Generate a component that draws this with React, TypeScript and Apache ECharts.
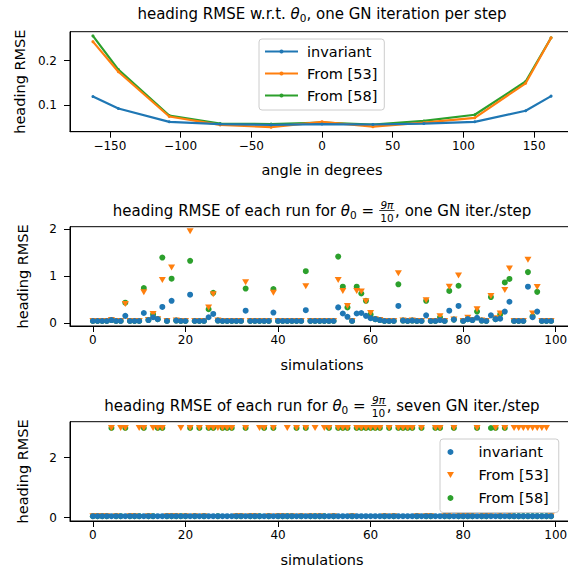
import React, { useEffect, useRef } from 'react';
import * as echarts from 'echarts';

// ---------------- data ----------------
const angles = [-162, -144, -108, -72, -36, 0, 36, 72, 108, 144, 162];
const angleInvariant = [0.119, 0.092, 0.062, 0.057, 0.055, 0.057, 0.056, 0.058, 0.062, 0.087, 0.12];
const angleFrom53 = [0.243, 0.175, 0.074, 0.055, 0.05, 0.062, 0.051, 0.06, 0.071, 0.149, 0.252];
const angleFrom58 = [0.256, 0.18, 0.076, 0.058, 0.057, 0.06, 0.056, 0.064, 0.078, 0.153, 0.252];
const angleTicks = [-150, -100, -50, 0, 50, 100, 150];
const angleRmseTicks = [0.1, 0.2];

const simTicks = [0, 20, 40, 60, 80, 100];
const oneIterTicks = [0, 1, 2];
const sevenIterTicks = [0, 2];

const oneIterInvariant = [
  0.05, 0.05, 0.05, 0.05, 0.07, 0.05, 0.05, 0.16, 0.05, 0.05,
  0.05, 0.22, 0.07, 0.13, 0.09, 0.35, 0.05, 0.48, 0.06, 0.05,
  0.05, 0.61, 0.05, 0.05, 0.05, 0.13, 0.2, 0.06, 0.05, 0.05,
  0.05, 0.05, 0.05, 0.27, 0.05, 0.05, 0.05, 0.05, 0.05, 0.23,
  0.05, 0.05, 0.05, 0.05, 0.05, 0.05, 0.28, 0.05, 0.05, 0.05,
  0.05, 0.05, 0.05, 0.34, 0.21, 0.14, 0.05, 0.21, 0.22, 0.16,
  0.11, 0.09, 0.07, 0.05, 0.05, 0.05, 0.37, 0.06, 0.05, 0.06,
  0.05, 0.05, 0.17, 0.05, 0.05, 0.07, 0.05, 0.27, 0.08, 0.37,
  0.05, 0.09, 0.07, 0.12, 0.06, 0.05, 0.17, 0.09, 0.1, 0.25,
  0.46, 0.05, 0.05, 0.05, 0.78, 0.13, 0.25, 0.05, 0.05, 0.05,
];
const oneIterFrom53 = [
  0.05, 0.05, 0.05, 0.05, 0.07, 0.05, 0.05, 0.41, 0.05, 0.05,
  0.05, 0.66, 0.07, 0.2, 0.09, 0.92, 0.05, 1.19, 0.06, 0.05,
  0.05, 1.96, 0.05, 0.05, 0.05, 0.34, 0.62, 0.06, 0.05, 0.05,
  0.05, 0.05, 0.05, 0.875, 0.05, 0.05, 0.05, 0.05, 0.05, 0.65,
  0.05, 0.05, 0.05, 0.05, 0.05, 0.05, 0.79, 0.05, 0.05, 0.05,
  0.05, 0.05, 0.05, 0.92, 0.69, 0.37, 0.05, 0.69, 0.68, 0.47,
  0.22, 0.09, 0.07, 0.05, 0.05, 0.05, 1.065, 0.06, 0.05, 0.06,
  0.05, 0.05, 0.49, 0.05, 0.05, 0.15, 0.05, 0.78, 0.08, 1.02,
  0.05, 0.12, 0.07, 0.3, 0.06, 0.05, 0.58, 0.11, 0.21, 0.71,
  1.165, 0.05, 0.05, 0.05, 1.355, 0.21, 0.775, 0.05, 0.05, 0.05,
];
const oneIterFrom58 = [
  0.05, 0.05, 0.05, 0.05, 0.07, 0.05, 0.05, 0.44, 0.05, 0.05,
  0.05, 0.75, 0.07, 0.19, 0.09, 1.4, 0.05, 0.95, 0.06, 0.05,
  0.05, 1.33, 0.05, 0.05, 0.05, 0.3, 0.65, 0.06, 0.05, 0.05,
  0.05, 0.05, 0.05, 0.74, 0.05, 0.05, 0.05, 0.05, 0.05, 0.73,
  0.05, 0.05, 0.05, 0.05, 0.05, 0.05, 1.11, 0.05, 0.05, 0.05,
  0.05, 0.05, 0.05, 1.42, 0.78, 0.34, 0.05, 0.78, 0.635, 0.48,
  0.19, 0.09, 0.07, 0.05, 0.05, 0.05, 0.83, 0.06, 0.05, 0.06,
  0.05, 0.05, 0.48, 0.05, 0.05, 0.13, 0.05, 0.69, 0.08, 0.8,
  0.05, 0.09, 0.07, 0.25, 0.06, 0.05, 0.56, 0.09, 0.19, 0.87,
  0.945, 0.05, 0.05, 0.05, 1.09, 0.15, 0.67, 0.05, 0.05, 0.05,
];

const sevenIterInvariant = [
  0.05, 0.05, 0.05, 0.05, 0.05, 0.05, 0.05, 0.05, 0.05, 0.05,
  0.05, 0.05, 0.05, 0.05, 0.05, 0.05, 0.05, 0.05, 0.05, 0.05,
  0.05, 0.05, 0.05, 0.05, 0.05, 0.05, 0.05, 0.05, 0.05, 0.05,
  0.05, 0.05, 0.05, 0.05, 0.05, 0.05, 0.05, 0.05, 0.05, 0.05,
  0.05, 0.05, 0.05, 0.05, 0.05, 0.05, 0.05, 0.05, 0.05, 0.05,
  0.05, 0.05, 0.05, 0.05, 0.05, 0.05, 0.05, 0.05, 0.05, 0.05,
  0.05, 0.05, 0.05, 0.05, 0.05, 0.05, 0.05, 0.05, 0.05, 0.05,
  0.05, 0.05, 0.05, 0.05, 0.05, 0.05, 0.05, 0.05, 0.05, 0.05,
  0.05, 0.05, 0.05, 0.05, 0.05, 0.05, 0.05, 0.05, 0.05, 0.05,
  0.05, 0.05, 0.05, 0.05, 0.05, 0.05, 0.05, 0.05, 0.05, 0.05,
];
const sevenIterFrom53 = [
  0.05, 0.05, 0.05, 0.05, 2.99, 0.05, 2.99, 2.99, 0.05, 0.05,
  2.99, 2.99, 0.05, 2.99, 2.99, 2.99, 0.05, 0.05, 0.05, 2.99,
  0.05, 2.99, 0.05, 2.99, 0.05, 2.99, 2.99, 2.99, 2.99, 2.99,
  2.99, 0.05, 0.05, 2.99, 0.05, 0.05, 2.99, 2.99, 0.05, 2.99,
  0.05, 0.05, 2.99, 0.05, 2.99, 0.05, 2.99, 0.05, 2.99, 0.05,
  2.99, 2.99, 0.05, 2.99, 2.99, 2.99, 0.05, 2.99, 2.99, 2.99,
  2.99, 2.99, 2.99, 0.05, 2.99, 0.05, 2.99, 2.99, 2.99, 2.99,
  0.05, 2.99, 0.05, 0.05, 2.99, 2.99, 0.05, 0.05, 2.99, 0.05,
  0.05, 0.05, 0.05, 2.99, 0.05, 0.05, 0.05, 2.99, 0.05, 2.99,
  0.05, 2.99, 2.99, 2.99, 2.99, 2.99, 2.99, 2.99, 2.99, 0.05,
];
const sevenIterFrom58 = [
  0.05, 0.05, 0.05, 0.05, 2.99, 0.05, 0.05, 2.99, 0.05, 0.05,
  0.05, 2.99, 0.05, 0.05, 2.99, 2.99, 0.05, 0.05, 0.05, 0.05,
  0.05, 2.99, 0.05, 2.99, 0.05, 2.99, 2.99, 0.05, 2.99, 2.99,
  2.99, 0.05, 0.05, 2.99, 0.05, 0.05, 0.05, 2.99, 0.05, 2.99,
  0.05, 0.05, 0.05, 0.05, 2.99, 0.05, 2.99, 0.05, 0.05, 0.05,
  0.05, 2.99, 0.05, 2.99, 2.99, 2.99, 0.05, 2.99, 2.99, 2.99,
  2.99, 2.99, 2.99, 0.05, 2.99, 0.05, 2.99, 2.99, 2.99, 2.99,
  0.05, 2.99, 0.05, 0.05, 2.99, 2.99, 0.05, 0.05, 2.99, 0.05,
  0.05, 0.05, 0.05, 2.99, 0.05, 0.05, 2.99, 2.99, 0.05, 2.99,
  0.05, 0.05, 0.05, 0.05, 0.05, 0.05, 0.05, 0.05, 0.05, 0.05,
];

const seriesNames = ['invariant', 'From [53]', 'From [58]'];

// ---------------- style ----------------
const FONT = 'DejaVu Sans';
const BLUE = '#1f77b4';
const ORANGE = '#ff7f0e';
const GREEN = '#2ca02c';
const TICK_FS = 12;
const LABEL_FS = 14.5;
const TITLE_FS = 15;
const DOWN_TRI = 'path://M0,0L10,0L5,8.66Z';

type Seg =
  | { t: string; size: number; italic?: boolean; dy?: number }
  | { num: string; den: string; size: number };

function buildTitle(segs: Seg[], cx: number, cy: number): any[] {
  const ctx = document.createElement('canvas').getContext('2d')!;
  const w = (t: string, size: number, italic = false) => {
    ctx.font = `${italic ? 'italic ' : ''}${size}px "${FONT}"`;
    return ctx.measureText(t).width;
  };
  const widths = segs.map((s: any) =>
    'num' in s ? Math.max(w(s.num, s.size, true), w(s.den, s.size)) + 3 : w(s.t, s.size, s.italic)
  );
  const total = widths.reduce((a, b) => a + b, 0);
  let x = cx - total / 2;
  const els: any[] = [];
  segs.forEach((s: any, i) => {
    const wd = widths[i];
    if ('num' in s) {
      const mid = x + wd / 2;
      els.push({
        type: 'text',
        silent: true,
        style: { text: s.num, x: mid, y: cy - 6, fontSize: s.size, fontFamily: FONT, fontStyle: 'italic', fill: '#000', align: 'center', verticalAlign: 'middle' },
      });
      els.push({
        type: 'line',
        silent: true,
        shape: { x1: x + 0.5, y1: cy - 0.5, x2: x + wd - 0.5, y2: cy - 0.5 },
        style: { stroke: '#000', lineWidth: 0.8 },
      });
      els.push({
        type: 'text',
        silent: true,
        style: { text: s.den, x: mid, y: cy + 6.5, fontSize: s.size, fontFamily: FONT, fill: '#000', align: 'center', verticalAlign: 'middle' },
      });
    } else {
      els.push({
        type: 'text',
        silent: true,
        style: {
          text: s.t,
          x,
          y: cy + (s.dy || 0),
          fontSize: s.size,
          fontFamily: FONT,
          fontStyle: s.italic ? 'italic' : 'normal',
          fill: '#000',
          align: 'left',
          verticalAlign: 'middle',
        },
      });
    }
    x += wd;
  });
  return els;
}

const minusFmt = (v: number) => String(v).replace('-', '\u2212');

function makeXAxis(gridIndex: number, min: number, max: number, ticks: number[], name: string) {
  return {
    type: 'value',
    gridIndex,
    min,
    max,
    name,
    nameLocation: 'middle',
    nameGap: 31,
    nameTextStyle: { fontSize: LABEL_FS, fontFamily: FONT, color: '#000' },
    axisLine: { show: true, onZero: false, lineStyle: { color: '#000', width: 1 } },
    axisTick: { show: true, length: 6, customValues: ticks, lineStyle: { color: '#000', width: 1 } },
    axisLabel: {
      customValues: ticks,
      margin: 8,
      fontSize: TICK_FS,
      fontFamily: FONT,
      color: '#000',
      formatter: minusFmt,
    },
    splitLine: { show: false },
  };
}

function makeYAxis(gridIndex: number, min: number, max: number, ticks: number[], fmt: (v: number) => string) {
  return {
    type: 'value',
    gridIndex,
    min,
    max,
    name: 'heading RMSE',
    nameLocation: 'middle',
    nameRotate: 90,
    nameGap: 40,
    nameTextStyle: { fontSize: LABEL_FS, fontFamily: FONT, color: '#000' },
    axisLine: { show: true, onZero: false, lineStyle: { color: '#000', width: 1 } },
    axisTick: { show: true, length: 6, customValues: ticks, lineStyle: { color: '#000', width: 1 } },
    axisLabel: {
      customValues: ticks,
      margin: 13,
      fontSize: TICK_FS,
      fontFamily: FONT,
      color: '#000',
      formatter: fmt,
    },
    splitLine: { show: false },
  };
}

const toPairs = (xs: number[], ys: number[]) => ys.map((y, i) => [xs[i], y]);
const simIndex = oneIterInvariant.map((_, i) => i);

function scatter(name: string, color: string, data: number[][], idx: number, z: number, tri: boolean) {
  return {
    type: 'scatter',
    name,
    xAxisIndex: idx,
    yAxisIndex: idx,
    data,
    symbol: tri ? DOWN_TRI : 'circle',
    symbolSize: tri ? [7, 6] : 6,
    itemStyle: { color, opacity: 1 },
    z,
  };
}

function lineSeries(name: string, color: string, ys: number[], z: number) {
  return {
    type: 'line',
    name,
    xAxisIndex: 0,
    yAxisIndex: 0,
    data: toPairs(angles, ys),
    symbol: 'circle',
    symbolSize: 3,
    showSymbol: true,
    itemStyle: { color },
    lineStyle: { color, width: 2.2 },
    z,
  };
}

function buildOption() {
  const sub = TITLE_FS * 0.7;
  const graphics = [
    ...buildTitle(
      [
        { t: 'heading RMSE w.r.t. ', size: TITLE_FS },
        { t: 'θ', size: TITLE_FS, italic: true },
        { t: '0', size: sub, dy: 3.5 },
        { t: ', one GN iteration per step', size: TITLE_FS },
      ],
      322,
      14
    ),
    ...buildTitle(
      [
        { t: 'heading RMSE of each run for ', size: TITLE_FS },
        { t: 'θ', size: TITLE_FS, italic: true },
        { t: '0', size: sub, dy: 3.5 },
        { t: ' = ', size: TITLE_FS },
        { num: '9π', den: '10', size: sub },
        { t: ', one GN iter./step', size: TITLE_FS },
      ],
      322,
      211
    ),
    ...buildTitle(
      [
        { t: 'heading RMSE of each run for ', size: TITLE_FS },
        { t: 'θ', size: TITLE_FS, italic: true },
        { t: '0', size: sub, dy: 3.5 },
        { t: ' = ', size: TITLE_FS },
        { num: '9π', den: '10', size: sub },
        { t: ', seven GN iter./step', size: TITLE_FS },
      ],
      322,
      406
    ),
  ];

  const gridCommon = { show: true, borderColor: '#000', borderWidth: 1, backgroundColor: 'transparent' };

  return {
    animation: false,
    backgroundColor: '#fff',
    textStyle: { fontFamily: FONT },
    graphic: graphics,
    grid: [
      { ...gridCommon, left: 70, top: 31.7, width: 504, height: 100 },
      { ...gridCommon, left: 70, top: 226.7, width: 504, height: 99.3 },
      { ...gridCommon, left: 70, top: 421.7, width: 504, height: 99.3 },
    ],
    xAxis: [
      makeXAxis(0, -178.2, 178.2, angleTicks, 'angle in degrees'),
      makeXAxis(1, -4.95, 103.95, simTicks, 'simulations'),
      makeXAxis(2, -4.95, 103.95, simTicks, 'simulations'),
    ],
    yAxis: [
      makeYAxis(0, 0.0397, 0.2655, angleRmseTicks, (v) => v.toFixed(1)),
      makeYAxis(1, -0.056, 2.056, oneIterTicks, (v) => String(Math.round(v))),
      makeYAxis(2, -0.11, 3.2, sevenIterTicks, (v) => String(Math.round(v))),
    ],
    legend: [
      {
        data: seriesNames,
        orient: 'vertical',
        left: 259,
        top: 39,
        itemWidth: 33,
        itemHeight: 5,
        itemGap: 7,
        padding: [5, 7, 7, 5],
        selectedMode: false,
        backgroundColor: 'rgba(255,255,255,0.8)',
        borderColor: '#cccccc',
        borderWidth: 1,
        borderRadius: 3,
        textStyle: { fontSize: LABEL_FS, fontFamily: FONT, color: '#000', padding: [0, 0, 0, 4] },
      },
      {
        data: [
          { name: seriesNames[0], icon: 'circle', itemStyle: { color: BLUE, borderWidth: 0 } },
          { name: seriesNames[1], icon: DOWN_TRI, itemStyle: { color: ORANGE, borderWidth: 0 } },
          { name: seriesNames[2], icon: 'circle', itemStyle: { color: GREEN, borderWidth: 0 } },
        ],
        orient: 'vertical',
        left: 440,
        top: 439,
        itemWidth: 28,
        itemHeight: 6,
        itemGap: 8,
        padding: [5.5, 10, 7, 7],
        selectedMode: false,
        backgroundColor: 'rgba(255,255,255,0.8)',
        borderColor: '#cccccc',
        borderWidth: 1,
        borderRadius: 3,
        z: 10,
        textStyle: { fontSize: LABEL_FS, fontFamily: FONT, color: '#000', padding: [0, 0, 0, 9] },
      },
    ],
    series: [
      lineSeries(seriesNames[0], BLUE, angleInvariant, 5),
      lineSeries(seriesNames[1], ORANGE, angleFrom53, 4),
      lineSeries(seriesNames[2], GREEN, angleFrom58, 3),
      scatter(seriesNames[0], BLUE, toPairs(simIndex, oneIterInvariant), 1, 5, false),
      scatter(seriesNames[1], ORANGE, toPairs(simIndex, oneIterFrom53), 1, 4, true),
      scatter(seriesNames[2], GREEN, toPairs(simIndex, oneIterFrom58), 1, 3, false),
      scatter(seriesNames[0], BLUE, toPairs(simIndex, sevenIterInvariant), 2, 5, false),
      scatter(seriesNames[1], ORANGE, toPairs(simIndex, sevenIterFrom53), 2, 4, true),
      scatter(seriesNames[2], GREEN, toPairs(simIndex, sevenIterFrom58), 2, 3, false),
    ],
  };
}

export default function App() {
  const ref = useRef<HTMLDivElement>(null);
  useEffect(() => {
    if (!ref.current) return;
    const chart = echarts.init(ref.current, null, { renderer: 'svg' });
    chart.setOption(buildOption() as any);
    return () => chart.dispose();
  }, []);
  return (
    <div
      style={{
        position: 'fixed',
        left: 0,
        top: 0,
        width: 568,
        height: 573,
        overflow: 'hidden',
        background: '#fff',
      }}
    >
      <div ref={ref} style={{ width: 600, height: 573 }} />
    </div>
  );
}
